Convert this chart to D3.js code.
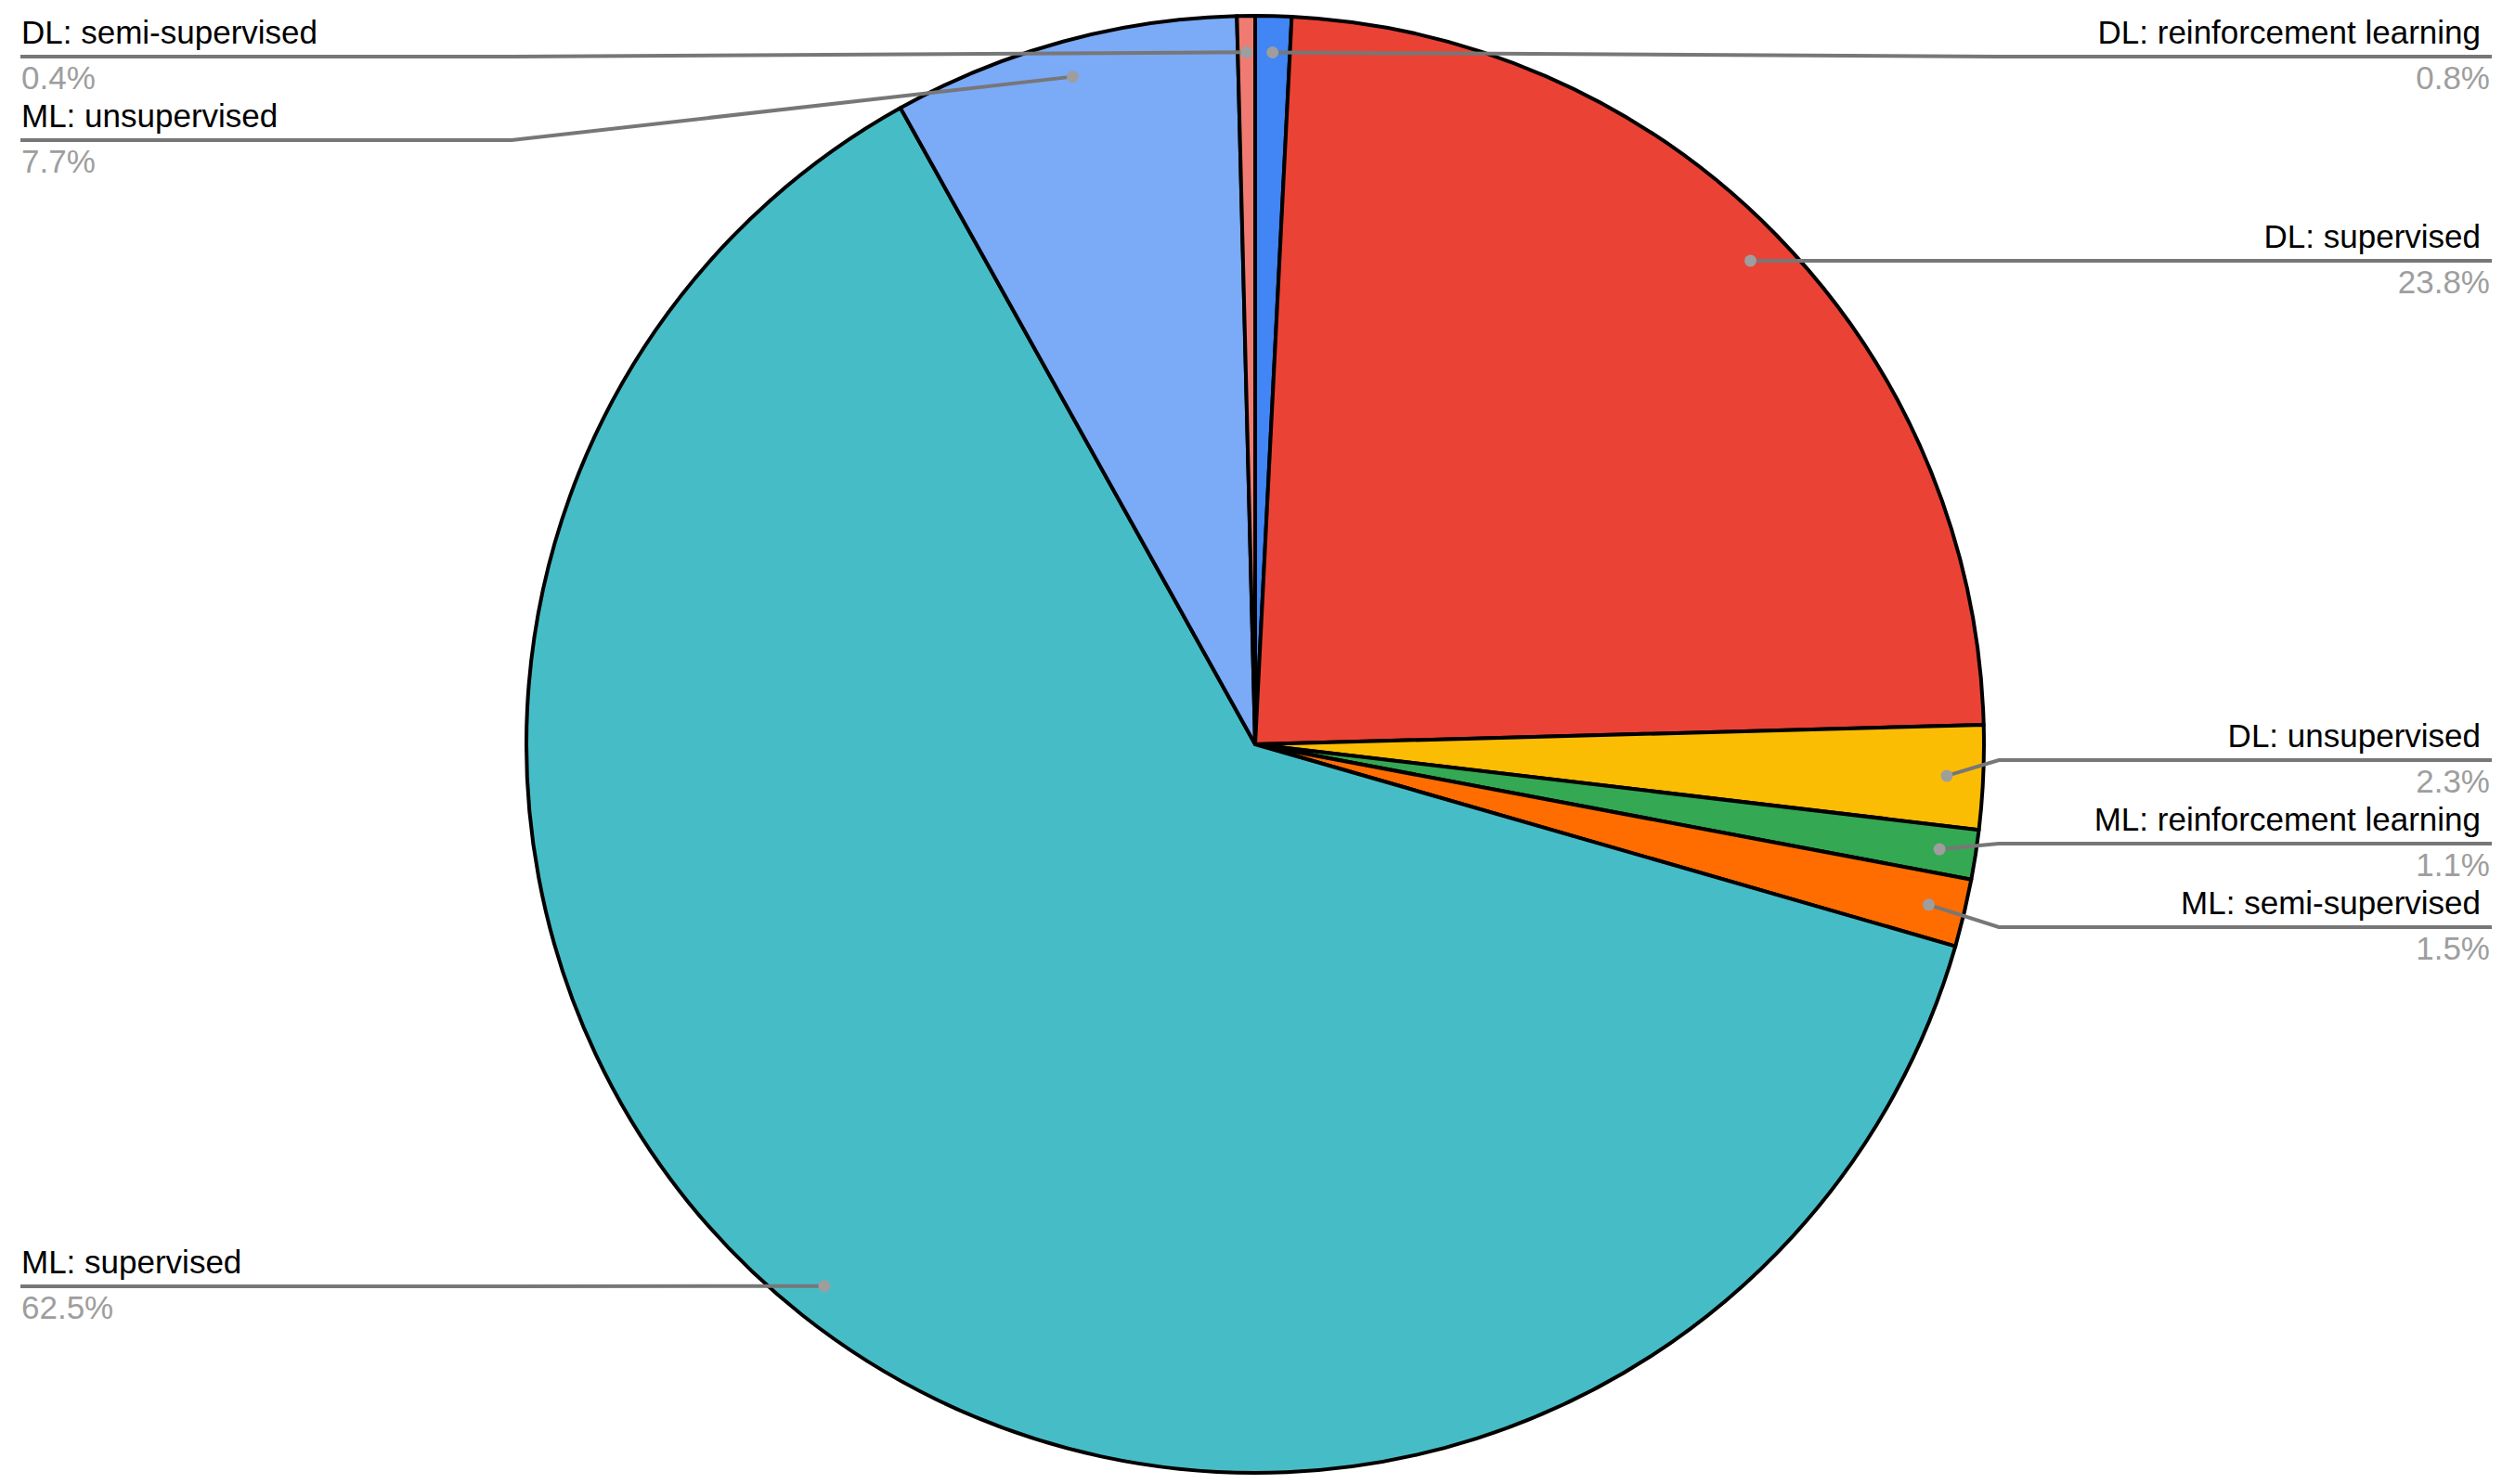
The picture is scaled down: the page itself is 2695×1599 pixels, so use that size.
<!DOCTYPE html>
<html>
<head>
<meta charset="utf-8">
<script src="https://cdn.jsdelivr.net/npm/d3@7"></script>
<style>
  body { margin: 0; background: #fff; }
  text { font-family: "Liberation Sans", Arial, sans-serif; }
</style>
</head>
<body>
<svg width="2695" height="1599"></svg>
<script>
// slices, clockwise from 12 o'clock
const categories = [
    'DL: reinforcement learning', 'DL: supervised', 'DL: unsupervised',
    'ML: reinforcement learning', 'ML: semi-supervised', 'ML: supervised',
    'ML: unsupervised', 'DL: semi-supervised'
];
const shares = [0.8, 23.8, 2.3, 1.1, 1.5, 62.5, 7.7, 0.4]; // percent
const sliceColors = [
    '#4285f4', '#ea4335', '#fbbc04', '#34a853', '#ff6d01', '#46bdc6', '#7baaf7', '#f07b72'
];

const svg = d3.select("svg");
const width = +svg.attr('width');
const height = +svg.attr('height');

const cx = 1352, cy = 802, radius = 785;
const gap = 90;      // vertical space between stacked labels
const minLineY = 61; // topmost leader line

const data = categories.map((c, i) => ({ name: c, value: shares[i] }));

const pieData = d3.pie().sort(null).value(d => d.value)(data);

const arcGenerator = d3.arc().innerRadius(0).outerRadius(radius);
const dotArc = d3.arc().innerRadius(radius * 0.95).outerRadius(radius * 0.95);

const colors = d3.scaleOrdinal().domain(categories).range(sliceColors);

const g = svg.append("g").attr("transform", `translate(${cx},${cy})`);

g.selectAll("path").data(pieData).enter()
    .append("path")
    .attr("d", arcGenerator)
    .attr("fill", d => colors(d.data.name))
    .attr("stroke", "#000")
    .attr("stroke-width", 4)
    .attr("stroke-linejoin", "round");

// label positions: start at the dot height, push apart overlapping ones
const labels = pieData.map(d => {
    const [x, y] = dotArc.centroid(d);
    return { d, dx: cx + x, dy: cy + y, side: x >= 0 ? 'right' : 'left', want: cy + y };
});

const place = items => {
    items.sort((a, b) => a.want - b.want);
    let groups = items.map(it => ({ members: [it] }));
    const topOf = gr => Math.max(minLineY, d3.mean(gr.members, (m, k) => m.want - k * gap));
    let merged = true;
    while (merged) {
        merged = false;
        groups.forEach(gr => gr.top = topOf(gr));
        for (let i = 1; i < groups.length; i++) {
            const prev = groups[i - 1];
            if (groups[i].top < prev.top + prev.members.length * gap) {
                prev.members = prev.members.concat(groups[i].members);
                groups.splice(i, 1);
                merged = true;
                break;
            }
        }
    }
    groups.forEach(gr => gr.members.forEach((m, k) => m.lineY = Math.round(gr.top + k * gap)));
};

place(labels.filter(l => l.side === 'right'));
place(labels.filter(l => l.side === 'left'));

const pct = v => `${v}%`;

const lab = svg.append("g").selectAll("g").data(labels).enter().append("g");

lab.append("polyline")
    .attr("points", l => {
        const ex = l.side === 'right' ? cx + radius + 16 : cx - radius - 16;
        const endX = l.side === 'right' ? 2684 : 22;
        return `${l.dx},${l.dy} ${ex},${l.lineY} ${endX},${l.lineY}`;
    })
    .attr("fill", "none")
    .attr("stroke", "#777")
    .attr("stroke-width", 4);

lab.append("circle")
    .attr("cx", l => l.dx)
    .attr("cy", l => l.dy)
    .attr("r", 6.5)
    .attr("fill", "#9e9e9e");

lab.append("text")
    .attr("x", l => l.side === 'right' ? 2672 : 23)
    .attr("y", l => l.lineY - 14)
    .attr("text-anchor", l => l.side === 'right' ? 'end' : 'start')
    .attr("font-size", 35)
    .attr("fill", "#000")
    .text(l => l.d.data.name);

lab.append("text")
    .attr("x", l => l.side === 'right' ? 2682 : 23)
    .attr("y", l => l.lineY + 35)
    .attr("text-anchor", l => l.side === 'right' ? 'end' : 'start')
    .attr("font-size", 35)
    .attr("fill", "#9e9e9e")
    .text(l => pct(l.d.data.value));
</script>
</body>
</html>
